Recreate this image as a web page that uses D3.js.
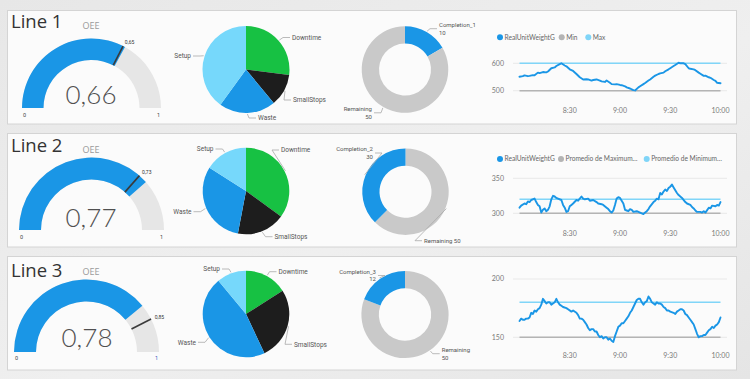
<!DOCTYPE html>
<html><head><meta charset="utf-8">
<script src="https://cdn.jsdelivr.net/npm/d3@7"></script>
<style>
body{margin:0;background:#ebebeb;overflow:hidden}
svg{display:block}
</style></head><body>
<svg id="c" width="750" height="379"></svg>
<script>
// ---------------- DATA ----------------
const lineNames = ["Line 1", "Line 2", "Line 3"];
const gaugeTitle = "OEE";
const oeeValues = [0.66, 0.77, 0.78];
const oeeTargets = [0.65, 0.73, 0.85];
const gaugeMin = 0, gaugeMax = 1;

const pieCategories = ["Downtime", "SmallStops", "Waste", "Setup"];
const pieValuesLine1 = [27, 12, 21, 40];
const pieValuesLine2 = [35, 18, 31, 16];
const pieValuesLine3 = [16, 27, 46, 11];

const completionLabels = ["Completion_1", "Completion_2", "Completion_3"];
const completionValues = [10, 30, 12];
const remainingLabel = "Remaining";
const remainingValues = [50, 50, 50];

const legendLine1 = ["RealUnitWeightG", "Min", "Max"];
const legendLine2 = ["RealUnitWeightG", "Promedio de Maximum…", "Promedio de Minimum…"];
const minRefValues = [500, 300, 150];
const maxRefValues = [600, 320, 180];
const yTicksLine1 = [500, 600];
const yTicksLine2 = [300, 350];
const yTicksLine3 = [150, 200];
const xTickLabels = ["8:30", "9:00", "9:30", "10:00"];
const timeStart = "8:00", timeEnd = "10:00";

const weightLine1 = [["8:00",551],["8:02",553],["8:03",556],["8:05",553],["8:06",554],["8:08",557],["8:09",556],["8:11",566],["8:12",564],["8:14",568],
["8:16",567],["8:17",570],["8:19",582],["8:21",585],["8:22",590],["8:24",597],["8:25",600],["8:27",592],["8:28",589],["8:30",578],
["8:32",572],["8:34",561],["8:36",549],["8:38",541],["8:40",542],["8:41",541],["8:43",537],["8:44",539],["8:46",541],["8:48",537],
["8:49",534],["8:51",532],["8:52",537],["8:54",529],["8:55",524],["8:57",523],["8:58",524],["9:00",521],["9:01",520],["9:03",516],
["9:04",512],["9:06",508],["9:07",505],["9:08",502],["9:09",501],["9:11",512],["9:12",516],["9:14",524],["9:15",528],["9:17",537],
["9:18",541],["9:20",551],["9:21",555],["9:23",561],["9:24",563],["9:26",566],["9:27",571],["9:29",578],["9:30",582],["9:32",590],
["9:33",594],["9:35",602],["9:36",600],["9:38",600],["9:39",597],["9:41",582],["9:42",580],["9:44",578],["9:45",575],["9:47",566],
["9:48",562],["9:50",554],["9:51",555],["9:53",549],["9:54",547],["9:56",539],["9:57",536],["9:58",529],["10:00",527]];

const weightLine2 = [["8:00",308],["8:01",311],["8:03",314],["8:04",313],["8:05",317],["8:06",316],["8:07",319],["8:09",321],["8:10",316],["8:11",312],
["8:12",310],["8:13",301],["8:14",305],["8:15",307],["8:16",303],["8:17",305],["8:18",310],["8:19",320],["8:20",325],["8:21",324],
["8:22",322],["8:23",321],["8:25",319],["8:26",312],["8:27",308],["8:28",302],["8:29",303],["8:30",310],["8:31",312],["8:32",314],
["8:34",319],["8:35",318],["8:37",324],["8:38",321],["8:39",320],["8:41",321],["8:42",318],["8:44",319],["8:46",316],["8:47",314],
["8:49",313],["8:50",312],["8:52",308],["8:53",306],["8:54",303],["8:55",301],["8:56",304],["8:57",312],["8:58",321],["8:59",323],
["9:00",322],["9:01",318],["9:02",314],["9:03",305],["9:04",304],["9:05",303],["9:06",306],["9:07",305],["9:08",302],["9:10",303],
["9:12",301],["9:13",300],["9:14",299],["9:15",301],["9:16",303],["9:17",306],["9:18",310],["9:20",316],["9:21",318],["9:22",321],
["9:23",320],["9:24",329],["9:25",327],["9:26",331],["9:27",334],["9:28",332],["9:29",336],["9:30",338],["9:31",341],["9:32",337],
["9:33",333],["9:34",329],["9:35",326],["9:36",324],["9:37",322],["9:39",316],["9:40",314],["9:42",312],["9:43",309],["9:44",307],
["9:45",304],["9:46",302],["9:48",302],["9:49",301],["9:50",303],["9:51",301],["9:53",308],["9:54",307],["9:55",311],["9:57",310],
["9:58",312],["9:59",311],["10:00",316]];

const weightLine3 = [["8:00",164],["8:01",166],["8:02",165],["8:03",165],["8:04",166],["8:05",166],["8:06",167],["8:07",171],["8:08",170],["8:09",173],
["8:10",172],["8:11",174],["8:12",175],["8:13",178],["8:14",183],["8:15",181],["8:16",179],["8:17",180],["8:18",180],["8:19",178],
["8:20",179],["8:21",180],["8:22",183],["8:23",180],["8:24",178],["8:25",177],["8:26",176],["8:28",175],["8:29",174],["8:31",172],
["8:32",173],["8:34",171],["8:35",169],["8:36",166],["8:37",166],["8:38",165],["8:39",163],["8:40",161],["8:41",158],["8:42",156],
["8:43",157],["8:44",157],["8:45",155],["8:46",155],["8:47",152],["8:48",150],["8:49",151],["8:50",149],["8:51",150],["8:52",150],
["8:53",148],["8:54",149],["8:55",147],["8:56",146],["8:57",151],["8:58",155],["8:59",159],["9:00",160],["9:01",162],["9:02",162],
["9:03",164],["9:04",166],["9:05",168],["9:06",171],["9:07",173],["9:08",176],["9:09",179],["9:10",182],["9:11",183],["9:12",183],
["9:13",180],["9:14",178],["9:15",180],["9:16",181],["9:17",185],["9:18",183],["9:19",180],["9:20",179],["9:21",178],["9:22",180],
["9:23",179],["9:24",179],["9:25",178],["9:26",176],["9:27",175],["9:28",173],["9:29",173],["9:30",172],["9:32",171],["9:33",170],
["9:34",172],["9:35",173],["9:36",174],["9:37",174],["9:38",173],["9:39",170],["9:40",169],["9:41",167],["9:42",165],["9:43",163],
["9:44",161],["9:45",157],["9:46",153],["9:47",150],["9:48",151],["9:49",151],["9:50",152],["9:51",152],["9:52",154],["9:53",156],
["9:54",157],["9:55",159],["9:56",158],["9:57",160],["9:58",161],["9:59",163],["10:00",167]];

// ---------------- STYLE / LAYOUT ----------------
const C = {
  blue: "#1a96e6", track: "#e6e6e6", green: "#17c143", black: "#1d1d1d", light: "#76d8fb",
  grey: "#c9c9c9", minLine: "#b4b4b4", maxLine: "#80d5f8", text: "#555", axis: "#7a7a7a"
};
const pieColors = d3.scaleOrdinal().domain(pieCategories).range([C.green, C.black, C.blue, C.light]);
const titleFont = "'Segoe UI','Open Sans',sans-serif";
const smallFont = "'Segoe UI','Lato',sans-serif";
const valueFont = "'Segoe UI Light','Lato',sans-serif";
const labelFont = "'DIN','Roboto',sans-serif";

const layout = [
  { top: 10, titleY: 28, oeeY: 29, valY: 104, valX: 91,
    gauge: {cx: 91.5, cy: 108, R: 69.5, r: 48}, minMaxY: 117,
    pie: {cx: 246, cy: 69.5, r: 43.5},
    pieLabels: [{x:292,y:37.5,a:"start"},{x:293,y:100,a:"start"},{x:258,y:118,a:"start"},{x:191,y:56,a:"end"}],
    donut: {cx: 405, cy: 69.5, R: 43.3, r: 26},
    donutOrder: "cf",
    donutLabels: {c:{x:439,y:28.7,a:"start",two:true}, r:{x:372,y:112.8,a:"end",two:true}},
    y: {v: yTicksLine1, px: [90.7, 63.3]}, xAxisY: 111, legendY: 37.3, legend: legendLine1 },
  { top: 133, titleY: 152, oeeY: 153, valY: 226.5, valX: 91,
    gauge: {cx: 91.5, cy: 230, R: 72.5, r: 50.5}, minMaxY: 238.5,
    pie: {cx: 246, cy: 191, r: 43.3},
    pieLabels: [{x:281,y:150,a:"start"},{x:274.5,y:236.7,a:"start"},{x:191.5,y:211.7,a:"end"},{x:213.5,y:149,a:"end"}],
    donut: {cx: 405.5, cy: 191.7, R: 43.2, r: 26},
    donutOrder: "rc",
    donutLabels: {c:{x:373,y:153,a:"end",two:true}, r:{x:424,y:240.7,a:"start",two:false}},
    y: {v: yTicksLine2, px: [213.3, 178.3]}, xAxisY: 233.5, legendY: 159, legend: legendLine2 },
  { top: 256, titleY: 277, oeeY: 275, valY: 346.5, valX: 87,
    gauge: {cx: 86.5, cy: 352, R: 72.5, r: 50.5}, minMaxY: 359.5,
    pie: {cx: 246, cy: 314, r: 43.3},
    pieLabels: [{x:278.5,y:271.7,a:"start"},{x:294,y:344.3,a:"start"},{x:196,y:342.3,a:"end"},{x:220,y:269,a:"end"}],
    donut: {cx: 405, cy: 314.5, R: 43.6, r: 26.2},
    donutOrder: "rc",
    donutLabels: {c:{x:376,y:275.5,a:"end",two:true}, r:{x:441.7,y:353.7,a:"start",two:true}},
    y: {v: yTicksLine3, px: [337.3, 279]}, xAxisY: 356, legendY: null, legend: [] }
];
const pieValues = [pieValuesLine1, pieValuesLine2, pieValuesLine3];
const weights = [weightLine1, weightLine2, weightLine3];

// ---------------- DRAW ----------------
const svg = d3.select("#c");
const defs = svg.append("defs");
const bg = defs.append("linearGradient").attr("id", "bg").attr("x1", 0).attr("x2", 1).attr("y1", 0).attr("y2", 1);
bg.append("stop").attr("offset", "0%").attr("stop-color", "#e7e7e7");
bg.append("stop").attr("offset", "55%").attr("stop-color", "#efefef");
bg.append("stop").attr("offset", "100%").attr("stop-color", "#e5e5e5");
svg.append("rect").attr("width", 750).attr("height", 379).attr("fill", "url(#bg)");

const fmt = v => d3.format(".2f")(v).replace(".", ",");
const parseT = d3.timeParse("%H:%M");
const gScale = d3.scaleLinear().domain([gaugeMin, gaugeMax]).range([-Math.PI / 2, Math.PI / 2]);
const xScale = d3.scaleTime().domain([parseT(timeStart), parseT(timeEnd)]).range([519.5, 720.5]);

function leader(g, p1, lab, dir, ly) {
  const ex = lab.x - dir * 9, y = ly;
  g.append("polyline")
    .attr("points", [[p1[0], p1[1]], [ex, y], [lab.x - dir * 2, y]].map(p => p.join(",")).join(" "))
    .attr("fill", "none").attr("stroke", "#aaa").attr("stroke-width", 0.8);
}

layout.forEach((L, i) => {
  const g = svg.append("g");
  g.append("rect").attr("x", 7.5).attr("y", L.top + 0.5).attr("width", 729).attr("height", 113.5)
    .attr("fill", "#fbfbfb").attr("stroke", "#d4d4d4").attr("stroke-width", 1);

  // Title
  g.append("text").attr("x", 11).attr("y", L.titleY).text(lineNames[i])
    .attr("font-family", titleFont).attr("font-size", 18.5).attr("fill", "#333");

  // ---- Gauge ----
  const G = L.gauge;
  const gg = g.append("g").attr("transform", `translate(${G.cx},${G.cy})`);
  const arc = d3.arc();
  gg.append("path").attr("fill", C.track)
    .attr("d", arc({innerRadius: G.r, outerRadius: G.R, startAngle: gScale(gaugeMin), endAngle: gScale(gaugeMax)}));
  gg.append("path").attr("fill", C.blue)
    .attr("d", arc({innerRadius: G.r, outerRadius: G.R, startAngle: gScale(gaugeMin), endAngle: gScale(oeeValues[i])}));
  const ta = gScale(oeeTargets[i]);
  gg.append("line")
    .attr("x1", G.r * Math.sin(ta)).attr("y1", -G.r * Math.cos(ta))
    .attr("x2", G.R * Math.sin(ta)).attr("y2", -G.R * Math.cos(ta))
    .attr("stroke", "#3a3a3a").attr("stroke-width", 1.6);
  gg.append("text").attr("x", (G.R + 4) * Math.sin(ta)).attr("y", -(G.R + 4) * Math.cos(ta) + 1.5)
    .text(fmt(oeeTargets[i])).attr("font-family", labelFont).attr("font-size", 5).attr("fill", "#333");
  g.append("text").attr("x", G.cx - G.R + 1).attr("y", L.minMaxY).text(gaugeMin)
    .attr("font-family", labelFont).attr("font-size", 5.5).attr("fill", "#444");
  g.append("text").attr("x", G.cx + G.R - 1).attr("y", L.minMaxY).text(gaugeMax).attr("text-anchor", "end")
    .attr("font-family", labelFont).attr("font-size", 5.5).attr("fill", i === 2 ? "#3a57c0" : "#444");
  g.append("text").attr("x", 91).attr("y", L.oeeY).text(gaugeTitle).attr("text-anchor", "middle")
    .attr("font-family", titleFont).attr("font-size", 9).attr("fill", "#9a9a9a");
  g.append("text").attr("x", L.valX).attr("y", L.valY).text(fmt(oeeValues[i])).attr("text-anchor", "middle")
    .attr("font-family", valueFont).attr("font-weight", 300).attr("font-size", 26).attr("fill", "#505050");

  // ---- Pie ----
  const P = L.pie;
  const pie = d3.pie().sort(null).value(d => d.v);
  const slices = pie(pieCategories.map((c, k) => ({c, v: pieValues[i][k]})));
  const pg = g.append("g").attr("transform", `translate(${P.cx},${P.cy})`);
  const parc = d3.arc().innerRadius(0).outerRadius(P.r);
  pg.selectAll("path").data(slices).join("path").attr("d", parc).attr("fill", d => pieColors(d.data.c));
  slices.forEach((s, k) => {
    const lab = L.pieLabels[k];
    const m = (s.startAngle + s.endAngle) / 2;
    const p1 = [P.cx + (P.r + 1) * Math.sin(m), P.cy - (P.r + 1) * Math.cos(m)];
    const dir = lab.a === "start" ? 1 : -1;
    leader(g, p1, lab, dir, lab.y);
    g.append("text").attr("x", lab.x).attr("y", lab.y).attr("dy", "0.35em").attr("text-anchor", lab.a)
      .text(s.data.c).attr("font-family", labelFont).attr("font-size", 6.5).attr("fill", C.text);
  });

  // ---- Donut ----
  const D = L.donut;
  const dItems = L.donutOrder === "cf"
    ? [{k: "c", name: completionLabels[i], v: completionValues[i], col: C.blue}, {k: "r", name: remainingLabel, v: remainingValues[i], col: C.grey}]
    : [{k: "r", name: remainingLabel, v: remainingValues[i], col: C.grey}, {k: "c", name: completionLabels[i], v: completionValues[i], col: C.blue}];
  const dsl = d3.pie().sort(null).value(d => d.v)(dItems);
  const dg = g.append("g").attr("transform", `translate(${D.cx},${D.cy})`);
  const darc = d3.arc().innerRadius(D.r).outerRadius(D.R);
  dg.selectAll("path").data(dsl).join("path").attr("d", darc).attr("fill", d => d.data.col);
  dsl.forEach(s => {
    const lab = L.donutLabels[s.data.k];
    const m = (s.startAngle + s.endAngle) / 2;
    const p1 = [D.cx + (D.R + 1) * Math.sin(m), D.cy - (D.R + 1) * Math.cos(m)];
    const dir = lab.a === "start" ? 1 : -1;
    leader(g, p1, lab, dir, lab.y);
    const t = g.append("text").attr("text-anchor", lab.a).attr("font-family", labelFont)
      .attr("font-size", 6).attr("fill", C.text);
    if (lab.two) {
      t.append("tspan").attr("x", lab.x).attr("y", lab.y - 1.8).text(s.data.name);
      t.append("tspan").attr("x", lab.x).attr("y", lab.y + 5.9).text(s.data.v);
    } else {
      t.append("tspan").attr("x", lab.x).attr("y", lab.y + 2).text(s.data.name + " " + s.data.v);
    }
  });

  // ---- Line chart ----
  const yS = d3.scaleLinear().domain(L.y.v).range(L.y.px);
  g.selectAll(".grid").data(L.y.v).join("line")
    .attr("x1", 513).attr("x2", 727).attr("y1", d => yS(d)).attr("y2", d => yS(d))
    .attr("stroke", "#e9e9e9").attr("stroke-width", 1);
  g.selectAll(".ytl").data(L.y.v).join("text")
    .attr("x", 504).attr("y", d => yS(d)).attr("dy", "0.35em").attr("text-anchor", "end").text(d => d)
    .attr("font-family", smallFont).attr("font-size", 7).attr("fill", C.axis);
  g.selectAll(".xtl").data(xTickLabels).join("text")
    .attr("x", d => xScale(parseT(d))).attr("y", L.xAxisY).attr("dy", "0.35em").attr("text-anchor", "middle").text(d => d)
    .attr("font-family", smallFont).attr("font-size", 7).attr("fill", C.axis);
  const refLine = d3.line().x(d => xScale(parseT(d[0]))).y(d => yS(d[1]));
  g.append("path").attr("d", refLine([[timeStart, minRefValues[i]], [timeEnd, minRefValues[i]]]))
    .attr("stroke", C.minLine).attr("stroke-width", 1.5).attr("fill", "none");
  g.append("path").attr("d", refLine([[timeStart, maxRefValues[i]], [timeEnd, maxRefValues[i]]]))
    .attr("stroke", C.maxLine).attr("stroke-width", 1.5).attr("fill", "none");
  g.append("path").attr("d", refLine(weights[i]))
    .attr("stroke", C.blue).attr("stroke-width", 1.9).attr("fill", "none")
    .attr("stroke-linejoin", "round").attr("stroke-linecap", "round");

  // legend
  if (L.legend.length) {
    const legCols = [C.blue, C.minLine, C.maxLine];
    const legX = i === 0 ? [500, 561.7, 588.3] : [500, 561, 646.7];
    L.legend.forEach((name, k) => {
      g.append("circle").attr("cx", legX[k]).attr("cy", L.legendY).attr("r", 3).attr("fill", legCols[k]);
      g.append("text").attr("x", legX[k] + 4.5).attr("y", L.legendY).attr("dy", "0.35em").text(name)
        .attr("font-family", smallFont).attr("font-size", 6.6).attr("fill", "#666");
    });
  }
});
</script>
</body></html>
